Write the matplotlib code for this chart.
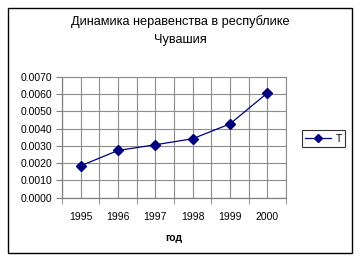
import numpy as np
import matplotlib.pyplot as plt
from matplotlib.patches import Rectangle
from matplotlib.ticker import FixedLocator

plt.rcParams['font.family'] = ['Liberation Sans', 'DejaVu Sans']

years = ['1995', '1996', '1997', '1998', '1999', '2000']
t_values = [0.00185, 0.00274, 0.00307, 0.00342, 0.00428, 0.00607]
y_ticks = [0.0, 0.001, 0.002, 0.003, 0.004, 0.005, 0.006, 0.007]

W, H = 360, 261
fig = plt.figure(figsize=(W / 100, H / 100), dpi=100)

# outer chart border
fig.patches.append(Rectangle((8 / W, 8 / H), 344 / W, 245 / H, transform=fig.transFigure,
                             fill=False, edgecolor='black', linewidth=1.0))

ax = fig.add_axes([62 / W, (H - 197.7) / H, 224 / W, 120.7 / H])
x = np.arange(len(years))
ax.plot(x, t_values, color='#000080', linewidth=0.9, marker='D', markersize=5,
        markerfacecolor='#000080', markeredgecolor='#000080', label='T')

ax.set_xlim(-0.5, len(years) - 0.5)
ax.set_ylim(0, 0.007)
ax.set_xticks(x)
ax.set_xticklabels(years, fontsize=7.5)
ax.xaxis.set_minor_locator(FixedLocator(np.arange(-0.5, len(years), 1.0)))
ax.tick_params(axis='x', which='major', length=0, pad=10)
ax.tick_params(axis='x', which='minor', length=4, color='#808080', direction='out')
ax.set_yticks(y_ticks)
ax.set_yticklabels(['%.4f' % v for v in y_ticks], fontsize=7.5)
ax.tick_params(axis='y', length=4, color='#808080', direction='out', pad=3)

ax.grid(True, which='both', color='#8c8c8c', linewidth=0.8)
ax.set_axisbelow(True)
for side in ['top', 'right']:
    ax.spines[side].set_color('#8c8c8c')
    ax.spines[side].set_linewidth(0.8)
for side in ['left', 'bottom']:
    ax.spines[side].set_color('#808080')
    ax.spines[side].set_linewidth(0.9)

ax.set_xlabel('год', fontsize=7.5, fontweight='bold', labelpad=8)

fig.text(180 / W, 1 - 22 / H, 'Динамика неравенства в республике', ha='center', va='center', fontsize=9.2)
fig.text(180 / W, 1 - 40 / H, 'Чувашия', ha='center', va='center', fontsize=9.2)

leg = fig.legend(loc='center', bbox_to_anchor=(323.5 / W, 1 - 138.5 / H), fontsize=7.5,
                 frameon=True, fancybox=False, edgecolor='black', handlelength=2.5,
                 borderpad=0.3, handletextpad=0.4, borderaxespad=0, markerscale=0.8)
leg.get_frame().set_linewidth(0.8)

fig.savefig('out.png', dpi=100)
